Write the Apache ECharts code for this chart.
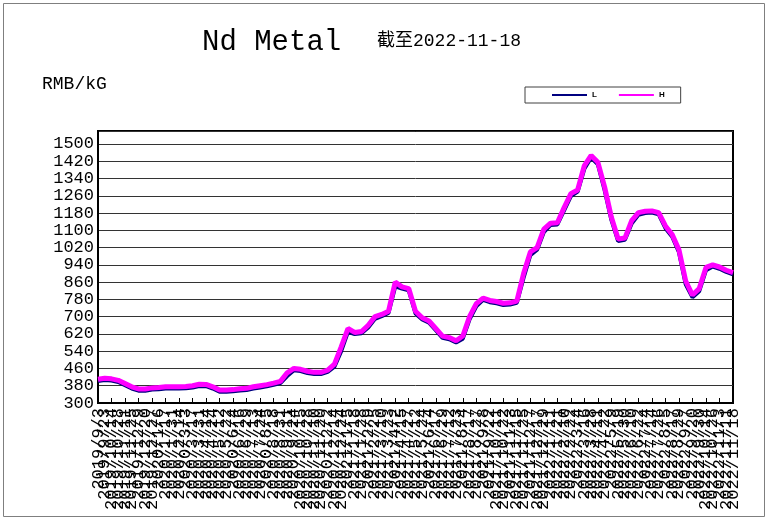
<!DOCTYPE html>
<html>
<head>
<meta charset="utf-8">
<script src="https://cdn.jsdelivr.net/npm/echarts@6/dist/echarts.min.js"></script>
<style>
html,body{margin:0;padding:0;background:#fff;}
#chart{width:769px;height:522px;}
</style>
</head>
<body>
<div id="chart"></div>
<script>
const titleText = 'Nd Metal';
const subtitleText = '截至2022-11-18';
const unitText = 'RMB/kG';
const seriesNames = ['L', 'H'];
const yTicks = [300, 380, 460, 540, 620, 700, 780, 860, 940, 1020, 1100, 1180, 1260, 1340, 1420, 1500];

const categories = [
'2019/9/3','2019/9/23','2019/10/14','2019/10/28','2019/11/11','2019/11/25','2019/12/9','2019/12/20','2019/12/27','2020/1/6',
'2020/1/17','2020/1/31','2020/2/14','2020/3/3','2020/3/17','2020/3/31','2020/4/14','2020/4/24','2020/5/12','2020/5/22',
'2020/6/4','2020/6/16','2020/6/29','2020/7/13','2020/7/24','2020/8/5','2020/8/18','2020/8/31','2020/9/11','2020/9/24',
'2020/10/15','2020/10/28','2020/11/10','2020/11/20','2020/12/2','2020/12/14','2020/12/24','2021/1/5','2021/1/18','2021/1/28',
'2021/2/9','2021/2/25','2021/3/10','2021/3/23','2021/4/2','2021/4/15','2021/4/27','2021/5/12','2021/5/24','2021/6/4',
'2021/6/17','2021/6/29','2021/7/12','2021/7/23','2021/8/4','2021/8/17','2021/8/27','2021/9/8','2021/9/22','2021/10/11',
'2021/10/22','2021/11/3','2021/11/15','2021/11/25','2021/12/7','2021/12/17','2021/12/29','2022/1/11','2022/1/21','2022/2/10',
'2022/2/22','2022/3/4','2022/3/16','2022/3/28','2022/4/11','2022/4/22','2022/5/9','2022/5/19','2022/5/30','2022/6/10',
'2022/6/22','2022/7/4','2022/7/14','2022/7/26','2022/8/5','2022/8/17','2022/8/29','2022/9/7','2022/9/20','2022/9/30',
'2022/10/14','2022/10/26','2022/11/3','2022/11/11','2022/11/18'
];

const valuesH = [
410,415,412,405,390,375,365,365,370,372,
375,375,375,376,380,387,386,375,360,360,
362,366,368,375,380,385,392,400,440,460,
456,447,442,442,452,480,560,645,627,631,
660,700,710,725,860,838,830,725,695,680,
645,610,603,588,610,700,760,786,775,770,
762,764,772,900,1000,1020,1105,1133,1135,1205,
1270,1287,1400,1447,1415,1300,1160,1060,1064,1145,
1182,1188,1190,1182,1120,1080,1010,865,800,830,
928,940,930,915,904
];

const valuesL = [
402,407,404,397,382,367,357,357,362,364,
367,367,367,368,372,379,378,367,352,352,
354,358,360,367,372,377,384,392,425,452,
448,439,434,434,444,468,540,630,619,623,
650,690,702,717,840,830,822,715,687,672,
637,602,595,580,598,688,748,778,767,762,
754,756,764,880,985,1010,1092,1125,1127,1192,
1258,1279,1385,1437,1405,1285,1148,1050,1056,1132,
1172,1180,1182,1174,1110,1070,998,850,790,818,
915,932,922,907,896
];

const chart = echarts.init(document.getElementById('chart'), null, {renderer: 'canvas'});
const mono = '"Liberation Mono", "DejaVu Sans Mono", monospace';

chart.setOption({
  backgroundColor: '#ffffff',
  animation: false,
  graphic: [
    {type: 'rect', shape: {x: 3.5, y: 3.5, width: 761, height: 513}, style: {fill: 'none', stroke: '#7f7f7f', lineWidth: 1}, silent: true},
    {type: 'text', x: 202, y: 42, style: {text: titleText, font: '29px ' + mono, fill: '#000', verticalAlign: 'middle', align: 'left'}},
    {type: 'text', x: 377, y: 41, style: {text: subtitleText, font: '18px "Liberation Mono", "Noto Sans CJK SC", monospace', fill: '#000', verticalAlign: 'middle', align: 'left'}},
    {type: 'text', x: 42, y: 84, style: {text: unitText, font: '18px ' + mono, fill: '#000', verticalAlign: 'middle', align: 'left'}}
  ],
  legend: {
    data: seriesNames.map(function (n) { return {name: n, icon: 'rect'}; }),
    left: 525,
    top: 87,
    orient: 'horizontal',
    itemWidth: 35,
    itemHeight: 2,
    itemGap: 22,
    padding: [4, 16, 4, 27],
    borderColor: '#404040',
    borderWidth: 1,
    backgroundColor: '#fff',
    textStyle: {fontSize: 8, fontWeight: 'bold', color: '#000', fontFamily: 'Arial, "Liberation Sans", sans-serif'}
  },
  grid: {
    left: 98, right: 36, top: 131, bottom: 119,
    show: true, borderColor: '#000', borderWidth: 2, backgroundColor: '#fff'
  },
  xAxis: {
    type: 'category',
    data: categories,
    boundaryGap: false,
    axisLine: {lineStyle: {color: '#000', width: 2}},
    axisTick: {show: true, inside: true, length: 5, interval: 1, lineStyle: {color: '#000'}},
    axisLabel: {interval: 0, rotate: 90, margin: 5, fontSize: 17, fontFamily: mono, color: '#000'},
    splitLine: {show: false}
  },
  yAxis: {
    type: 'value',
    min: 300,
    max: 1560,
    interval: 80,
    axisLine: {show: true, lineStyle: {color: '#000', width: 2}},
    axisTick: {show: false},
    axisLabel: {
      margin: 4, fontSize: 17, fontFamily: mono, color: '#000',
      showMinLabel: true, showMaxLabel: false,
      formatter: function (v) { return yTicks.indexOf(v) >= 0 ? String(v) : ''; }
    },
    splitLine: {show: true, lineStyle: {color: '#333', width: 1}}
  },
  series: [
    {name: seriesNames[0], type: 'line', data: valuesL, symbol: 'none', lineStyle: {color: '#000080', width: 4}, itemStyle: {color: '#000080'}, z: 2},
    {name: seriesNames[1], type: 'line', data: valuesH, symbol: 'none', lineStyle: {color: '#ff00ff', width: 5}, itemStyle: {color: '#ff00ff'}, z: 3}
  ]
});
</script>
</body>
</html>
